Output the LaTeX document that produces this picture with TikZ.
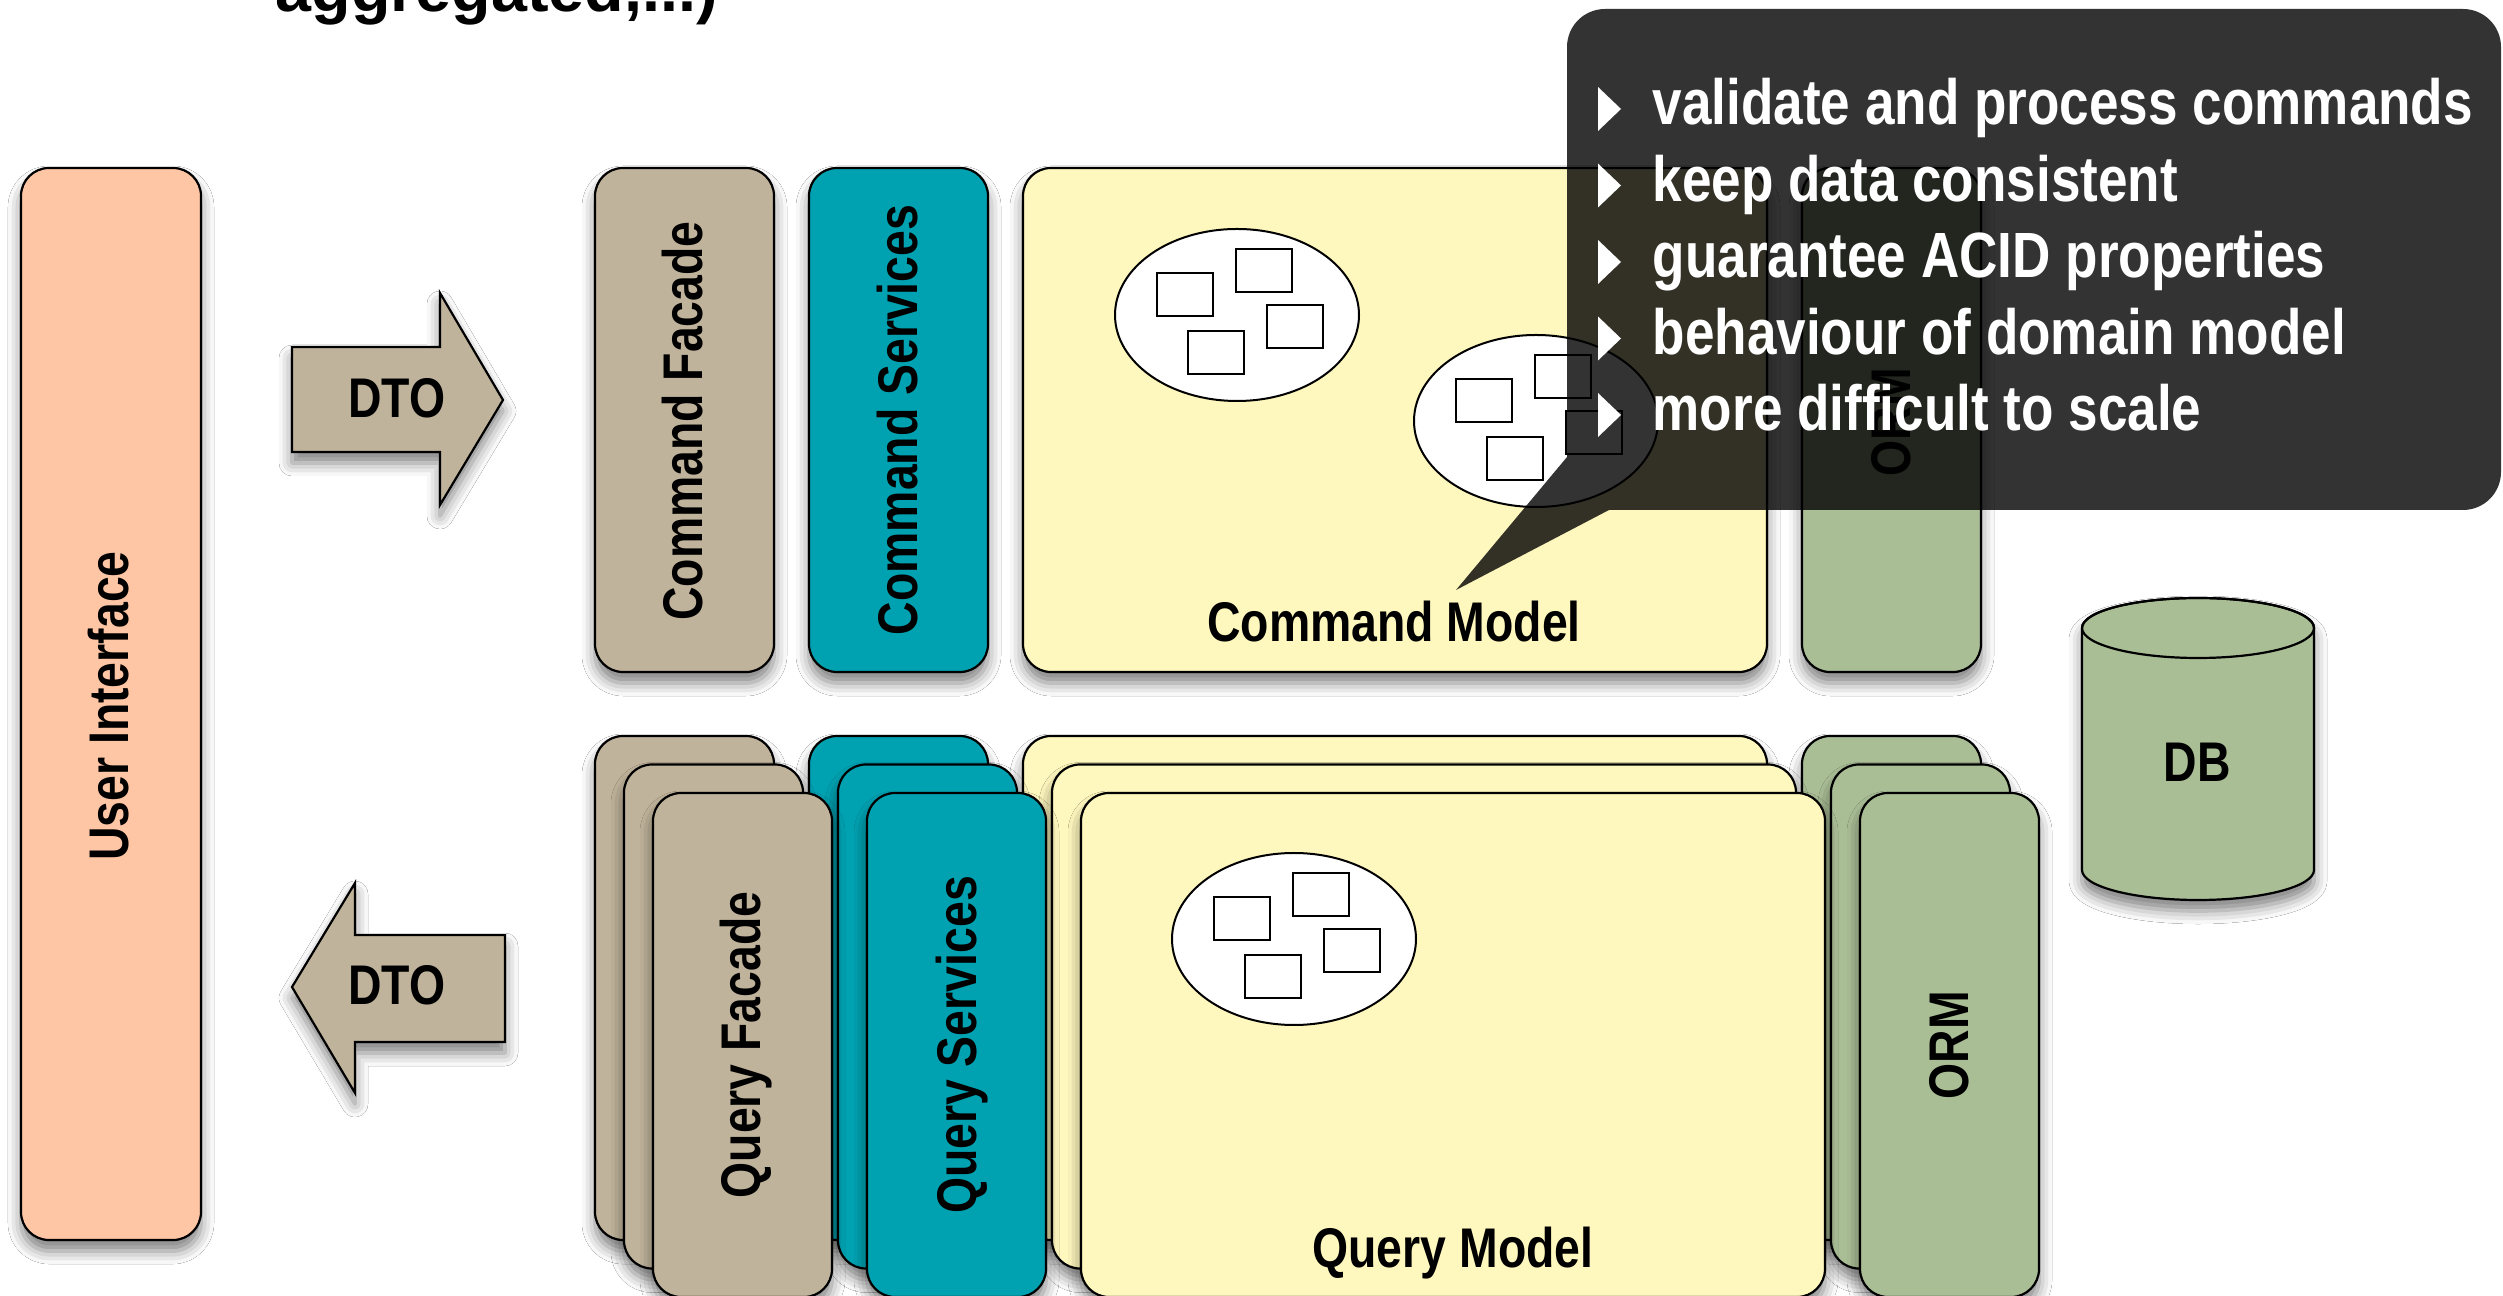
\documentclass[tikz,border=0pt]{standalone}
\usepackage{fontspec}
\setmainfont{Liberation Sans}
\newfontfamily\condfont[FakeStretch=0.83]{Liberation Sans}
\usetikzlibrary{shadows.blur}

\definecolor{uipeach}{RGB}{255,198,165}
\definecolor{facadetan}{RGB}{192,179,155}
\definecolor{serviceteal}{RGB}{0,162,177}
\definecolor{modelyellow}{RGB}{255,248,190}
\definecolor{ormgreen}{RGB}{170,190,150}

\tikzset{
    softshadow/.style={blur shadow={shadow xshift=0mm, shadow yshift=-1.1mm,
        shadow blur radius=1.3mm, shadow opacity=50}},
    layerbox/.style={draw=black, line width=0.22mm, rounded corners=2.8mm, softshadow},
    boxlabel/.style={font=\condfont\bfseries\fontsize{15.9}{18}\selectfont, inner sep=0pt},
    notetext/.style={font=\condfont\bfseries\fontsize{18.2}{21}\selectfont,
        text=white, inner sep=0pt, anchor=base west}
}

% aggregate: ellipse with four entities
\newcommand\aggregate[1]{%
    \begin{scope}[shift={(#1)}]
        \draw[fill=white, line width=0.2mm] (0,0) ellipse (122 and 86);
        \foreach \dx/\dy in {-52/-20, 27/-44, 58/12, -21/38}
            \draw[fill=white, line width=0.2mm] (\dx-28,\dy-21.5) rectangle ++(56,43);
    \end{scope}}

\begin{document}
\begin{tikzpicture}[x=0.1mm, y=-0.1mm]

    \useasboundingbox (0,0) rectangle (2503,1296);
    \fill[white] (0,0) rectangle (2503,1296);

    % heading, cut by the page
    \node[anchor=base west, inner sep=0pt, font=\bfseries\fontsize{18.4}{21}\selectfont]
        (heading) at (275,12) {aggregated,...)};

    % user interface
    \draw[layerbox, fill=uipeach] (21,168) rectangle (201,1240);
    \node[boxlabel, rotate=90, anchor=base] (ui) at (128,706) {User Interface};

    % dto arrows
    \draw[fill=facadetan, line width=0.22mm, softshadow]
        (292,347) -- (440,347) -- (440,293) -- (503,400)
        -- (440,505) -- (440,452) -- (292,452) -- cycle;
    \node[boxlabel] (dtoin) at (397,398) {DTO};
    \draw[fill=facadetan, line width=0.22mm, softshadow]
        (505,935) -- (355,935) -- (355,883) -- (292,987)
        -- (355,1093) -- (355,1042) -- (505,1042) -- cycle;
    \node[boxlabel] (dtoout) at (397,985) {DTO};

    % command side
    \draw[layerbox, fill=facadetan] (595,168) rectangle ++(179,504);
    \draw[layerbox, fill=serviceteal] (809,168) rectangle ++(179,504);
    \draw[layerbox, fill=modelyellow] (1023,168) rectangle ++(744,504);
    \draw[layerbox, fill=ormgreen] (1802,168) rectangle ++(179,504);
    \node[boxlabel, rotate=90, anchor=base] (cfacade) at (702,421) {Command Facade};
    \node[boxlabel, rotate=90, anchor=base] (cservices) at (917,420) {Command Services};
    \node[boxlabel, rotate=90, anchor=base] (corm) at (1910,422) {ORM};
    \node[boxlabel, anchor=base] (cmodel) at (1394,642) {Command Model};
    \aggregate{1237,315}
    \aggregate{1536,421}

    % query side, three copies
    \foreach \k in {0,1,2}{
        \begin{scope}[shift={(29*\k,736+28.5*\k)}]
            \draw[layerbox, fill=facadetan] (595,0) rectangle ++(179,504);
            \draw[layerbox, fill=serviceteal] (809,0) rectangle ++(179,504);
            \draw[layerbox, fill=modelyellow] (1023,0) rectangle ++(744,504);
            \draw[layerbox, fill=ormgreen] (1802,0) rectangle ++(179,504);
        \end{scope}
    }
    \node[boxlabel, rotate=90, anchor=base] (qfacade) at (760,1045) {Query Facade};
    \node[boxlabel, rotate=90, anchor=base] (qservices) at (976,1045) {Query Services};
    \node[boxlabel, rotate=90, anchor=base] (qorm) at (1968,1045) {ORM};
    \node[boxlabel, anchor=base] (qmodel) at (1453,1267) {Query Model};
    \aggregate{1294,939}

    % database
    \draw[fill=ormgreen, line width=0.22mm, softshadow]
        (2082,628) -- (2082,870)
        arc[start angle=180, end angle=0, x radius=116, y radius=30]
        -- (2314,628)
        arc[start angle=0, end angle=-180, x radius=116, y radius=30] -- cycle;
    \draw[line width=0.22mm] (2198,628) ellipse (116 and 30);
    \node[boxlabel] (db) at (2197,762) {DB};

    % note on the command model
    \fill[black, opacity=0.8, rounded corners=3.8mm]
        (1567,457) -- (1567,9) -- (2501,9) -- (2501,510)
        [sharp corners] -- (1609,510) -- (1456,590) -- cycle;
    \foreach \txt [count=\i] in {
        validate and process commands,
        keep data consistent,
        guarantee ACID properties,
        behaviour of domain model,
        more difficult to scale
    }{
        \pgfmathsetmacro\by{48.5+76.5*\i}
        \fill[white] (1598,\by-38) -- ++(23,22) -- ++(-23,22) -- cycle;
        \node[notetext] (point\i) at (1652,\by) {\txt};
    }

\end{tikzpicture}
\end{document}
